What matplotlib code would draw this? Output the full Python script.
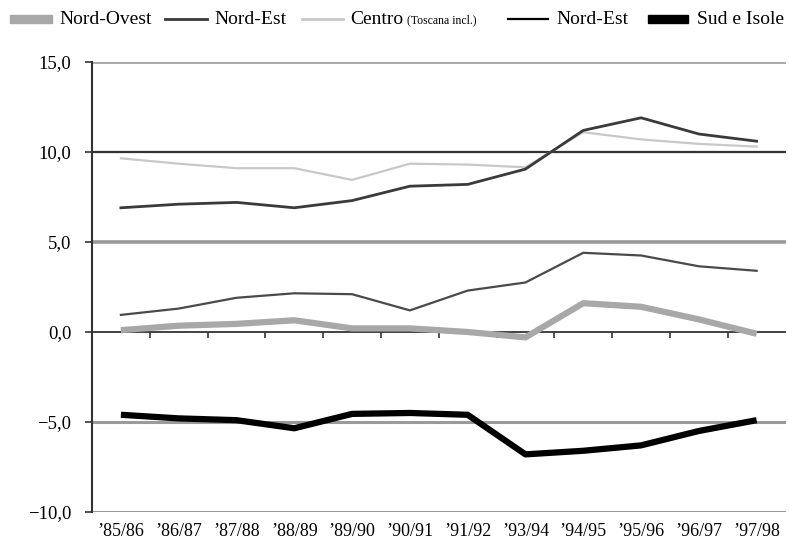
import numpy as np
import matplotlib.pyplot as plt
from matplotlib.lines import Line2D
from matplotlib.patches import Rectangle

plt.rcParams['font.family'] = ['Liberation Serif', 'DejaVu Serif']

years = ['\u201985/86', '\u201986/87', '\u201987/88', '\u201988/89', '\u201989/90', '\u201990/91',
         '\u201991/92', '\u201993/94', '\u201994/95', '\u201995/96', '\u201996/97', '\u201997/98']

nord_ovest = [0.1, 0.35, 0.45, 0.65, 0.2, 0.2, 0.0, -0.3, 1.6, 1.4, 0.7, -0.1]
nord_est = [6.9, 7.1, 7.2, 6.9, 7.3, 8.1, 8.2, 9.05, 11.2, 11.9, 11.0, 10.6]
centro = [9.65, 9.35, 9.1, 9.1, 8.45, 9.35, 9.3, 9.15, 11.1, 10.7, 10.45, 10.3]
nord_est2 = [0.95, 1.3, 1.9, 2.15, 2.1, 1.2, 2.3, 2.75, 4.4, 4.25, 3.65, 3.4]
sud = [-4.6, -4.8, -4.9, -5.35, -4.55, -4.5, -4.6, -6.8, -6.6, -6.3, -5.5, -4.9]

x = np.arange(len(years))

fig = plt.figure(figsize=(7.89, 5.42), dpi=100)
ax = fig.add_axes([0.1166, 0.0554, 0.879, 0.8302])

# horizontal reference lines
ax.axhline(15, color='#a8a8a8', lw=2.8, zorder=1)
ax.axhline(10, color='#333333', lw=1.6, zorder=1)
ax.axhline(5, color='#9a9a9a', lw=2.6, zorder=1)
ax.axhline(0, color='#333333', lw=1.3, zorder=1)
ax.axhline(-5, color='#9a9a9a', lw=2.2, zorder=1)
ax.axhline(-10, color='#9a9a9a', lw=2.2, zorder=1)
ax.vlines(x[:-1] + 0.5, -0.35, 0, color='#333333', lw=1.2, zorder=1)

ax.plot(x, nord_ovest, color='#a8a8a8', lw=4.5, solid_capstyle='butt', zorder=3)
ax.plot(x, centro, color='#c8c8c8', lw=1.6, zorder=2)
ax.plot(x, nord_est, color='#3a3a3a', lw=2, zorder=4)
ax.plot(x, nord_est2, color='#4a4a4a', lw=1.6, zorder=4)
ax.plot(x, sud, color='black', lw=4.5, solid_capstyle='butt', zorder=5)

ax.set_xlim(-0.5, len(years) - 0.5)
ax.set_ylim(-10, 15)
ax.set_yticks([-10, -5, 0, 5, 10, 15])
ax.set_yticklabels(['\u221210,0', '\u22125,0', '0,0', '5,0', '10,0', '15,0'], fontsize=13.5)
ax.set_xticks(x)
ax.set_xticklabels(years, fontsize=13)
ax.tick_params(axis='x', length=0, pad=8)
ax.tick_params(axis='y', length=5, width=1.2, color='#333333', pad=10)
for s in ['top', 'right', 'bottom']:
    ax.spines[s].set_visible(False)
ax.spines['left'].set_color('#333333')
ax.spines['left'].set_linewidth(1.5)

# legend row
W, H = 789.0, 542.0
def fx(px):
    return px / W
def fy(py):
    return 1 - py / H

ly = 19
fig.add_artist(Rectangle((fx(10), fy(ly + 4)), fx(42), 8 / H, color='#a8a8a8', transform=fig.transFigure))
fig.text(fx(59), fy(ly), 'Nord-Ovest', fontsize=14, va='center')
fig.add_artist(Line2D([fx(165), fx(207)], [fy(ly), fy(ly)], color='#3a3a3a', lw=2))
fig.text(fx(214), fy(ly), 'Nord-Est', fontsize=14, va='center')
fig.add_artist(Line2D([fx(302), fx(343)], [fy(ly), fy(ly)], color='#c8c8c8', lw=2))
fig.text(fx(350), fy(ly), 'Centro', fontsize=14, va='center')
fig.text(fx(407), fy(ly + 1), '(Toscana incl.)', fontsize=8.5, va='center')
fig.add_artist(Line2D([fx(508), fx(548)], [fy(ly), fy(ly)], color='black', lw=1.6))
fig.text(fx(556), fy(ly), 'Nord-Est', fontsize=14, va='center')
fig.add_artist(Rectangle((fx(648), fy(ly + 4)), fx(40), 8 / H, color='black', transform=fig.transFigure))
fig.text(fx(697), fy(ly), 'Sud e Isole', fontsize=14, va='center')

plt.savefig('out.png', dpi=100)
plt.close()
